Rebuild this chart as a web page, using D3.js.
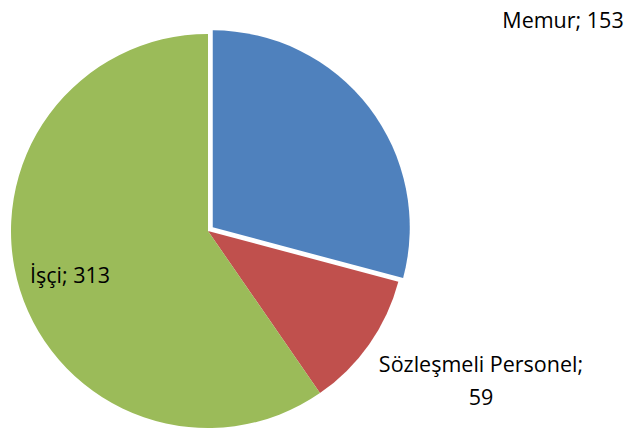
<!DOCTYPE html>
<html lang="tr">
<head>
    <meta charset="UTF-8">
    <title>Personel dağılımı</title>
    <style>
        body { margin: 0; background: #fff; }
        text { font-family: "Open Sans", sans-serif; font-size: 21.5px; fill: #000; }
    </style>
</head>
<body>
<script src="https://d3js.org/d3.v7.min.js"></script>
<script>
    const width = 638, height = 430;

    // data
    const categories = ["Memur", "Sözleşmeli Personel", "İşçi"];
    const values = [153, 59, 313];
    const colors = ["#4F81BD", "#C0504D", "#9BBB59"];

    // label placement (lines, center x, first baseline)
    const labelLayout = [
        {lines: ["Memur; 153"], x: 563, y: 28},
        {lines: ["Sözleşmeli Personel;", "59"], x: 481, y: 372},
        {lines: ["İşçi; 313"], x: 70, y: 283}
    ];

    const cx = 208, cy = 231, radius = 197;
    const explode = [6, 0, 0];   // blue slice pulled out

    const svg = d3.select("body")
        .append("svg")
        .attr("width", width)
        .attr("height", height);

    const pie = d3.pie().sort(null).value(d => d.value);
    const arc = d3.arc().innerRadius(0).outerRadius(radius);

    const data = categories.map((c, i) => ({name: c, value: values[i], color: colors[i], explode: explode[i]}));

    const g = svg.append("g").attr("transform", `translate(${cx},${cy})`);

    g.selectAll("path")
        .data(pie(data))
        .enter()
        .append("path")
        .attr("d", arc)
        .attr("fill", d => d.data.color)
        .attr("transform", d => {
            const a = (d.startAngle + d.endAngle) / 2;
            const off = d.data.explode;
            return `translate(${Math.sin(a) * off},${-Math.cos(a) * off})`;
        });

    labelLayout.forEach(l => {
        const t = svg.append("text")
            .attr("x", l.x)
            .attr("y", l.y)
            .attr("text-anchor", "middle");
        l.lines.forEach((line, i) => {
            t.append("tspan")
                .attr("x", l.x)
                .attr("dy", i === 0 ? 0 : 33)
                .text(line);
        });
    });
</script>
</body>
</html>
